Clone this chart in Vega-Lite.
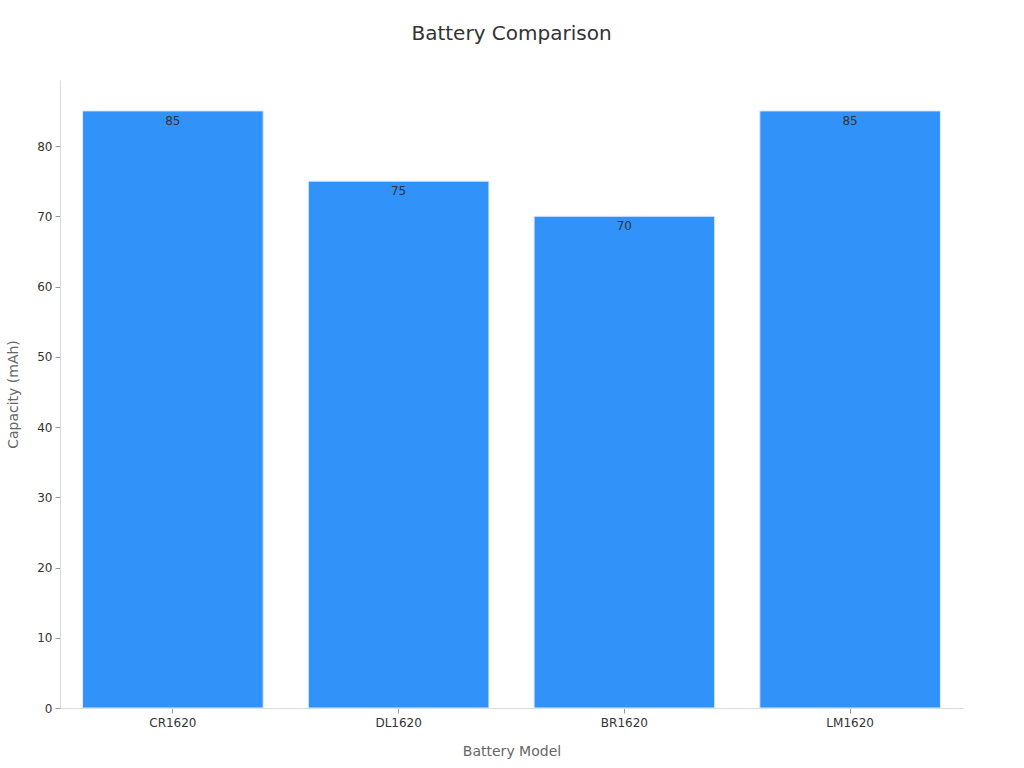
{
  "$schema": "https://vega.github.io/schema/vega-lite/v6.json",
  "autosize": {"type": "none"},
  "padding": {"left": 60, "top": 80, "right": 61, "bottom": 60},
  "width": 903,
  "height": 628,
  "background": "white",
  "title": {
    "text": "Battery Comparison",
    "font": "DejaVu Sans",
    "fontSize": 20,
    "fontWeight": "normal",
    "color": "#333333",
    "anchor": "middle",
    "offset": 36
  },
  "config": {
    "view": {"stroke": null},
    "font": "DejaVu Sans"
  },
  "data": {
    "values": [
      {"model": "CR1620", "capacity": 85},
      {"model": "DL1620", "capacity": 75},
      {"model": "BR1620", "capacity": 70},
      {"model": "LM1620", "capacity": 85}
    ]
  },
  "encoding": {
    "x": {
      "field": "model",
      "type": "nominal",
      "sort": null,
      "scale": {"paddingInner": 0.2, "paddingOuter": 0.1},
      "axis": {
        "title": "Battery Model",
        "titleFont": "DejaVu Sans",
        "titleFontSize": 14,
        "titleFontWeight": "normal",
        "titleColor": "#666666",
        "titlePadding": 16,
        "labelAngle": 0,
        "labelFont": "DejaVu Sans",
        "labelFontSize": 12,
        "labelColor": "#333333",
        "labelPadding": 4,
        "domainColor": "#d9d9d9",
        "tickColor": "#999999",
        "tickSize": 5,
        "grid": false
      }
    },
    "y": {
      "field": "capacity",
      "type": "quantitative",
      "scale": {"domain": [0, 89.4], "nice": false},
      "axis": {
        "title": "Capacity (mAh)",
        "titleFont": "DejaVu Sans",
        "titleFontSize": 14,
        "titleFontWeight": "normal",
        "titleColor": "#666666",
        "titlePadding": 16,
        "labelFont": "DejaVu Sans",
        "labelFontSize": 12,
        "labelColor": "#333333",
        "labelPadding": 3,
        "values": [0, 10, 20, 30, 40, 50, 60, 70, 80],
        "domainColor": "#d9d9d9",
        "tickColor": "#999999",
        "tickSize": 5,
        "grid": false
      }
    }
  },
  "layer": [
    {
      "mark": {"type": "bar", "color": "#3192f9", "stroke": "#dbeafe", "strokeWidth": 1}
    },
    {
      "mark": {"type": "text", "baseline": "top", "dy": 5, "fontSize": 12, "color": "#333333", "font": "DejaVu Sans"},
      "encoding": {"text": {"field": "capacity", "type": "quantitative"}}
    }
  ]
}
